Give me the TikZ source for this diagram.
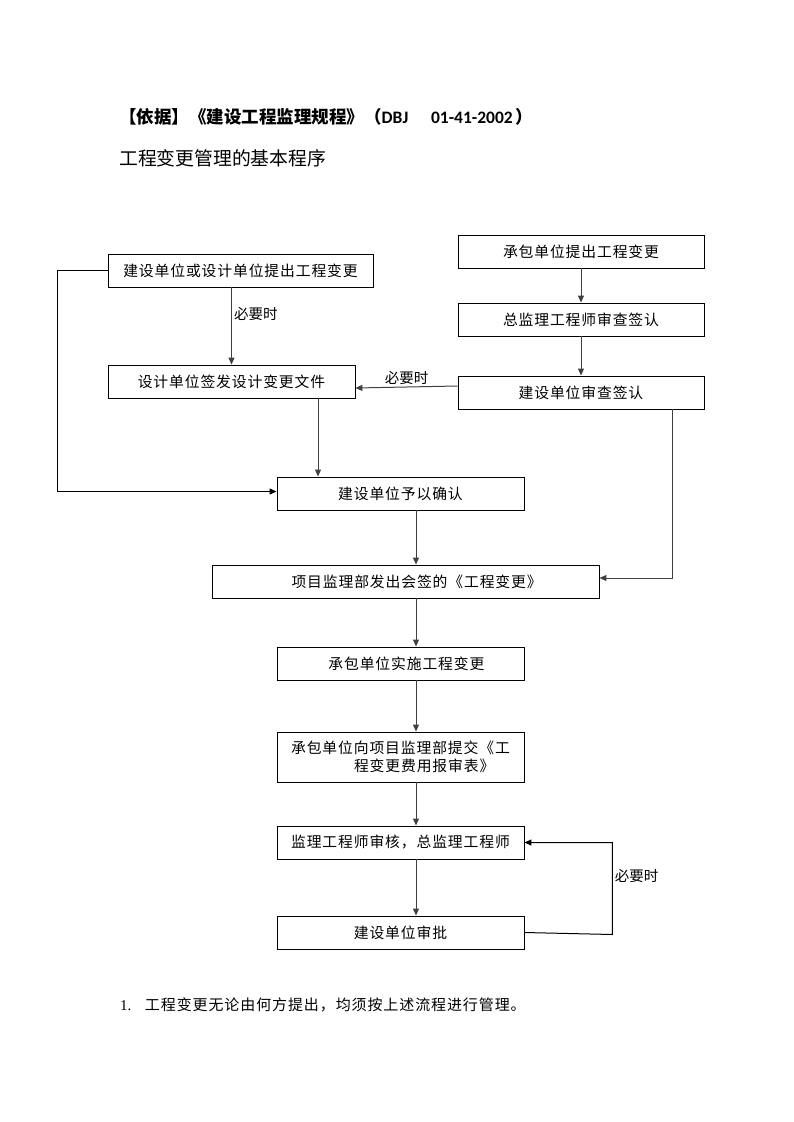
\documentclass[tikz,border=0pt]{standalone}
\usepackage{fontspec}
\usetikzlibrary{arrows.meta}
\setmainfont{Liberation Serif}
\newfontfamily\cjk{Noto Sans CJK SC}
\newfontfamily\cjkbox{Noto Sans CJK SC}[LetterSpace=6]
\newfontfamily\calibri{Carlito}

\begin{document}
\begin{tikzpicture}[x=1pt, y=-1pt,
  box/.style = {draw, line width=0.9pt, inner sep=0pt, minimum height=33pt,
                font=\cjkbox\fontsize{14.8}{20}\selectfont},
  arr/.style = {draw=black!75, line width=1pt, -{Triangle[length=7pt,width=6pt]}},
  lbl/.style = {font=\cjk\fontsize{14.5}{18}\selectfont, inner sep=2pt},
  ]
  \useasboundingbox (0,0) rectangle (793,1122);

  % titles
  \node[anchor=west, inner sep=0pt] (title) at (119,117)
    {\fontsize{17.5}{21}\selectfont{\cjk\bfseries 【依据】《建设工程监理规程》（}{\calibri\bfseries DBJ\hspace{1.3em}01-41-2002}{\cjk\bfseries \,）}};
  \node[anchor=west, inner sep=0pt] (subtitle) at (119,158)
    {\cjk\fontsize{18.8}{22}\selectfont 工程变更管理的基本程序};

  % boxes
  \node[box, minimum width=265pt] (a) at (240.5,270.5) {建设单位或设计单位提出工程变更};
  \node[box, minimum width=246pt] (b) at (581,251.5) {承包单位提出工程变更};
  \node[box, minimum width=246pt] (c) at (581,319.5) {总监理工程师审查签认};
  \node[box, minimum width=247pt] (d) at (231.5,381.5) {设计单位签发设计变更文件};
  \node[box, minimum width=246pt] (e) at (581,392.5) {建设单位审查签认};
  \node[box, minimum width=247pt] (f) at (400.5,493.5) {建设单位予以确认};
  \node[box, minimum width=387pt] (g) at (405.5,581.5) {\hspace*{1.5em}项目监理部发出会签的《工程变更》};
  \node[box, minimum width=247pt] (h) at (400.5,663.5) {\hspace*{0.8em}承包单位实施工程变更};
  \node[box, minimum width=247pt, minimum height=50pt, align=center] (i) at (400.5,757)
    {承包单位向项目监理部提交《工\\[-2pt]\hspace*{3.2em}程变更费用报审表》};
  \node[box, minimum width=247pt] (j) at (400.5,842.5) {监理工程师审核，总监理工程师};
  \node[box, minimum width=247pt] (k) at (400.5,932.5) {建设单位审批};

  \coordinate (spine) at (416,0);
  \coordinate (dout) at ([xshift=86.5pt]d.south);
  \coordinate (eout) at ([xshift=91pt]e.south);

  % connectors
  \draw[arr] (d.north |- a.south) -- node[lbl, right, pos=0.35] {必要时} (d.north);
  \draw[arr] (b) -- (c);
  \draw[arr] (c) -- (e);
  \draw[arr] ([yshift=6.5pt]e.west) -- node[lbl, above] {必要时} ([yshift=-6.5pt]d.east);
  \draw[arr] (dout) -- (dout |- f.north);
  \draw[arr, draw=black] (a.west) -- ++(-50,0) |- ([yshift=2pt]f.west);
  \draw[arr] (spine |- f.south) -- (spine |- g.north);
  \draw[arr] (eout) |- ([yshift=3.5pt]g.east);
  \draw[arr] (spine |- g.south) -- (spine |- h.north);
  \draw[arr] (spine |- h.south) -- (spine |- i.north);
  \draw[arr] (spine |- i.south) -- (spine |- j.north);
  \draw[arr] (spine |- j.south) -- (spine |- k.north);
  \draw[arr, draw=black] (k.east) -- ++(88,2) |- node[lbl, right, pos=0.32] {必要时} (j.east);

  % note
  \node[anchor=west, inner sep=0pt] (note) at (120,1005)
    {\fontsize{15}{18}\selectfont 1.\hspace{0.9em}{\cjkbox 工程变更无论由何方提出，均须按上述流程进行管理。}};
\end{tikzpicture}
\end{document}
